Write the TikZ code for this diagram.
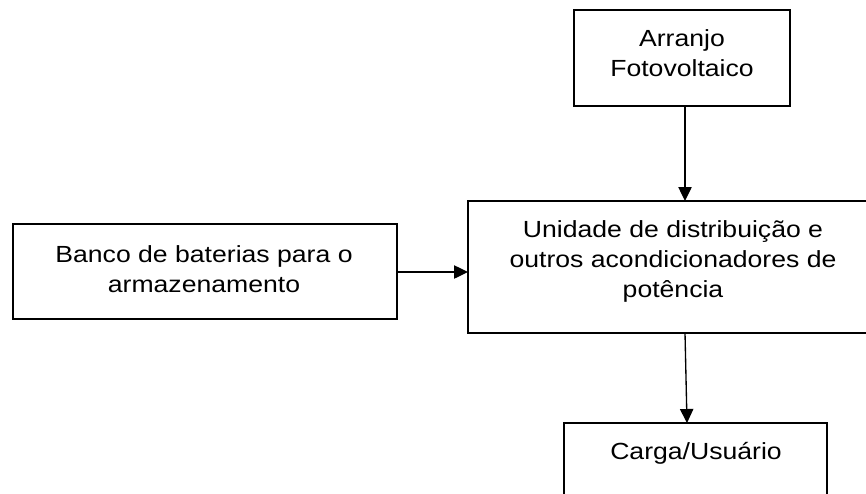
\documentclass[tikz,border=0pt]{standalone}
\usepackage{fontspec}
\setmainfont{Liberation Sans}[FakeStretch=1.14]
\usetikzlibrary{arrows.meta}

\tikzset{
  blk/.style={draw, line width=1pt, anchor=north west, inner sep=0pt, outer sep=0pt},
  lbl/.style={align=center, inner sep=0pt, font={\fontsize{17.5}{22.5}\selectfont}},
  arr/.style={line width=1pt, -{Triangle[length=10.5pt,width=10pt]}}
}

\begin{document}
\begin{tikzpicture}[x=0.75pt,y=-0.75pt]
		\useasboundingbox (0,0) rectangle (866,493);
		\node[blk, minimum width=162pt, minimum height=72pt] (arranjo) at (574,10) {};
		\node[blk, minimum width=307.5pt, minimum height=99pt] (unidade) at (468,201) {};
		\node[blk, minimum width=288pt, minimum height=71.25pt] (banco) at (13,224) {};
		\node[blk, minimum width=197.25pt, minimum height=90pt] (carga) at (564,423) {};
		\node[lbl] (arranjo-t) at (682,53) {Arranjo\\Fotovoltaico};
		\node[lbl] (unidade-t) at (673,261) {Unidade de distribuição e\\outros acondicionadores de\\potência};
		\node[lbl] (banco-t) at (204,269) {Banco de baterias para o\\armazenamento};
		\node[lbl] (carga-t) at (696,453) {Carga/Usuário};
		\coordinate (a-out) at (685,106);
		\coordinate (u-in) at (685,201);
		\coordinate (u-out) at (685,333);
		\coordinate (c-in) at (687,423);
		\draw[arr] (a-out)--(u-in);
		\draw[arr] (banco.east|-0,272)--(unidade.west|-0,272);
		\draw[arr] (u-out)--(c-in);
		\end{tikzpicture}
\end{document}
